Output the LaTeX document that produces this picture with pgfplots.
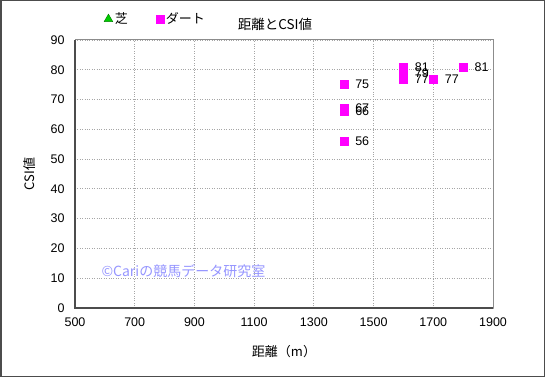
\documentclass[border=0pt]{standalone}
\usepackage{pgfplots}
\pgfplotsset{compat=1.18}
\usepackage{fontspec}
\setmainfont{Liberation Sans}
\newfontfamily\jp{Noto Sans CJK JP}
\definecolor{mag}{RGB}{255,0,255}
\definecolor{grn}{RGB}{0,204,0}
\definecolor{wm}{RGB}{150,150,255}
\begin{document}
\begin{tikzpicture}[x=1pt,y=1pt]
\useasboundingbox (0,0) rectangle (545,377);
\fill[white] (0,0) rectangle (545,377);
\draw[black!70, line width=1.5pt] (0.75,0.75) rectangle (544.25,376.25);
\begin{axis}[
  at={(75pt,69pt)}, anchor=south west,
  scale only axis, width=418pt, height=268pt,
  xmin=500, xmax=1900, ymin=0, ymax=90,
  xtick={500,700,...,1900}, ytick={0,10,...,90},
  major tick length=0pt,
  grid=major,
  major grid style={gray!70, dotted, line width=0.8pt},
  axis line style={black!45, line width=1pt},
  tick label style={font=\fontsize{12.5}{14}\selectfont},
  /pgf/number format/assume math mode=true,
  /pgf/number format/1000 sep={},
  xticklabel style={yshift=-6pt},
  yticklabel style={xshift=-7pt},
  xlabel={\jp 距離（m）}, ylabel={\jp CSI値},
  xlabel style={font=\fontsize{13}{15}\selectfont, yshift=-12pt},
  ylabel style={font=\fontsize{13}{15}\selectfont, yshift=8pt},
  legend columns=2,
  legend style={at={(axis description cs:0.062,1.078)}, anchor=west, draw=none, fill=none,
    font=\fontsize{13}{15}\selectfont\jp, /tikz/every even column/.append style={column sep=26pt}},
  legend cell align=left,
  legend image code/.code={\draw[#1] plot coordinates {(0.15cm,0cm)};},
  nodes near coords, point meta=explicit symbolic,
  nodes near coords style={anchor=west, xshift=8pt, font=\fontsize{12.5}{14}\selectfont, black},
  clip=false,
]
\draw[black!70, line width=1.2pt] (rel axis cs:0,1) -- (rel axis cs:0,0) -- (rel axis cs:1,0);
\addlegendimage{only marks, mark=triangle*, mark size=5pt, draw=green!50!black, fill=grn}
\addlegendentry{芝}
\addplot[only marks, mark=square*, mark size=4pt, draw=mag, fill=mag] table[meta=l] {
x y l
1400 75 75
1400 67 67
1400 66 66
1400 56 56
1600 81 81
1600 79 79
1600 77 77
1700 77 77
1800 81 81
};
\addlegendentry{ダート}
\end{axis}
\node[font=\fontsize{13.5}{15}\selectfont\jp] at (275,353) {距離とCSI値};
\node[font=\fontsize{14}{16}\selectfont\jp, text=wm, anchor=west] at (98,106) {©Cariの競馬データ研究室};
\end{tikzpicture}
\end{document}
